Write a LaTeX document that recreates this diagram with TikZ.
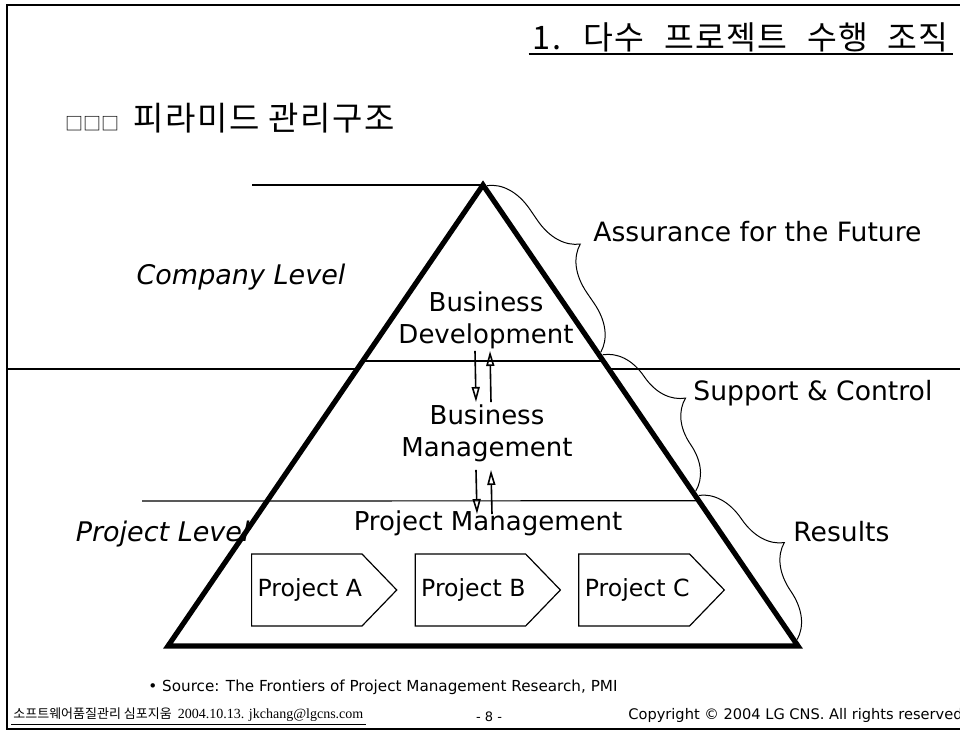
\documentclass[tikz,border=0pt]{standalone}
\usepackage{fontspec}
\setmainfont{DejaVu Sans}
\newfontfamily\krfont{Noto Sans CJK KR}
\newfontfamily\krtitle{Noto Sans CJK KR}[WordSpace=2.3,LetterSpace=4]
\newfontfamily\krhead{Noto Sans CJK KR}[LetterSpace=5]
\newfontfamily\datefont{Liberation Serif}
\usetikzlibrary{arrows.meta,shapes.symbols,positioning,calc,decorations.pathreplacing}

\begin{document}
\begin{tikzpicture}[x=0.5pt,y=-0.5pt,
  thinline/.style={line width=0.6pt},
  pyramid/.style={line width=2.6pt,line join=miter},
  level/.style={inner sep=0pt,font=\fontsize{13.5}{16}\selectfont\itshape},
  layer/.style={inner sep=1pt,align=center,font=\fontsize{13}{16}\selectfont},
  side/.style={anchor=west,inner sep=0pt,font=\fontsize{13.3}{16}\selectfont},
  bracket/.style={line width=0.5pt,decorate,decoration={brace,amplitude=22pt,aspect=0.5,raise=1.5pt}},
  updown/.style={line width=0.8pt,-{Triangle[open,length=7.5pt,width=4pt]}},
  project/.style={draw,line width=0.6pt,shape=signal,signal to=east,signal pointer angle=92,
    inner xsep=0pt,minimum width=72.5pt,minimum height=36pt,font=\fontsize{11.8}{14}\selectfont}
]
\useasboundingbox (0,0) rectangle (960,732);
\draw[thinline] (960,5) -- (7,5) -- (7,729) -- (960,729);

\node[anchor=east,inner sep=0pt] (title) at (949,37) {\krtitle\fontsize{16.2}{19}\selectfont 1. 다수 프로젝트 수행 조직};
\draw[thinline] ([xshift=-2pt,yshift=-1pt]title.south west) -- ([xshift=2pt,yshift=-1pt]title.south east);
\node[anchor=west,inner sep=0pt] (heading) at (65,118) {\krfont{\fontsize{9}{9}\selectfont □□□}\hspace{7pt}\krhead\fontsize{16.5}{19}\selectfont 피라미드 관리구조};

\coordinate (apex) at (483,185);
\coordinate (bl) at (168,646);
\coordinate (br) at (798,646);
\draw[thinline] (252,185) -- (apex);
\draw[thinline] (7,369) -- (960,369);
\fill[white] (apex) -- (br) -- (bl) -- cycle;
\draw[thinline] ($(apex)!0.382!(bl)$) -- ($(apex)!0.382!(br)$);
\draw[thinline] (142,501) -- ($(apex)!0.685!(br)$);
\draw[pyramid] (apex) -- (br) -- (bl) -- cycle;

\node[level] (company) at (241,277) {Company Level};
\node[level,anchor=east] (projlevel) at (250,534) {Project Level};

\node[layer] (bdev) at (486,320) {Business\\Development};
\node[layer] (bman) at (487,433) {Business\\Management};
\node[layer] (pm) at (488,523) {Project Management};
\draw[updown] ([xshift=-5.5pt]bdev.south) -- ([xshift=-5.5pt]bman.north);
\draw[updown] ([xshift=2pt]bman.north) -- ([xshift=2pt]bdev.south);
\draw[updown] ([xshift=-5.5pt,yshift=-3pt]bman.south) -- ([xshift=-5.5pt,yshift=-3pt]pm.north);
\draw[updown] ([xshift=2pt,yshift=-3pt]pm.north) -- ([xshift=2pt,yshift=-3pt]bman.south);

\node[project,anchor=west] (pa) at (251,590) {\hspace{3pt}Project A};
\node[project,right=8.5pt of pa] (pb) {\hspace{3pt}Project B};
\node[project,right=8.5pt of pb] (pc) {\hspace{3pt}Project C};

\draw[bracket] ($(apex)!0.005!(br)$) -- ($(apex)!0.367!(br)$);
\draw[bracket] ($(apex)!0.372!(br)$) -- ($(apex)!0.668!(br)$);
\draw[bracket] ($(apex)!0.677!(br)$) -- ($(apex)!0.99!(br)$);
\node[side] (future) at (593,232) {Assurance for the Future};
\node[side] (control) at (693,393) {Support \& Control};
\node[side] (results) at (793,532) {Results};

\node[anchor=west,inner sep=0pt,font=\fontsize{7.6}{9}\selectfont] (source) at (148,687) {• Source: The Frontiers of Project Management Research, PMI};
\node[anchor=west,inner sep=1pt] (event) at (11,715) {\krfont\fontsize{6.5}{8}\selectfont 소프트웨어품질관리 심포지움\hspace{3pt}\datefont\fontsize{7}{8}\selectfont 2004.10.13. jkchang@lgcns.com};
\draw[thinline] (event.south west) -- (event.south east);
\node[inner sep=0pt,font=\fontsize{6.5}{8}\selectfont] (page) at (489,717) {- 8 -};
\node[anchor=east,inner sep=0pt,font=\fontsize{7.3}{9}\selectfont] (copyright) at (963,715) {Copyright © 2004 LG CNS. All rights reserved};
\end{tikzpicture}
\end{document}
